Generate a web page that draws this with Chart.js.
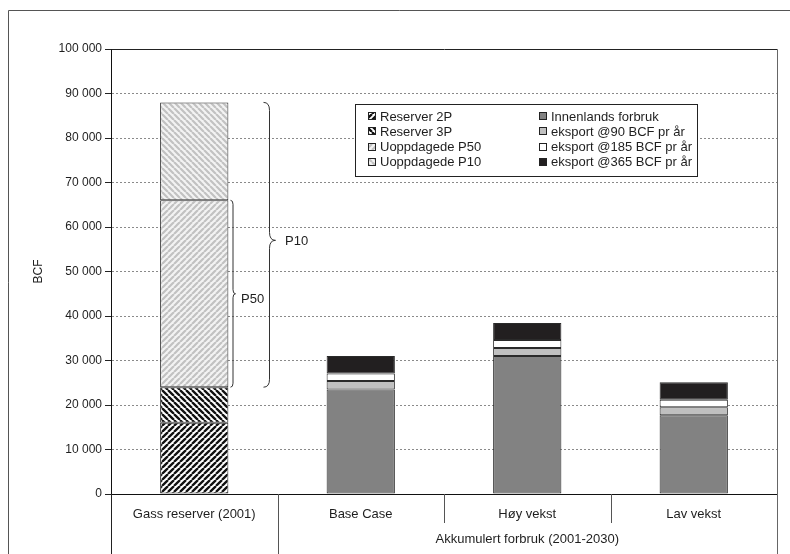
<!DOCTYPE html>
<html>
<head>
<meta charset="utf-8">
<script src="https://cdn.jsdelivr.net/npm/chart.js@4/dist/chart.umd.min.js"></script>
<style>
  html, body { margin: 0; padding: 0; background: #fff; }
  canvas { display: block; }
</style>
</head>
<body>
<canvas id="c" width="790" height="554"></canvas>
<script>
// ---- data ----
const categories = ['Gass reserver (2001)', 'Base Case', 'Høy vekst', 'Lav vekst'];
const groupLabel = 'Akkumulert forbruk (2001-2030)';
const yTicks = [0, 10000, 20000, 30000, 40000, 50000, 60000, 70000, 80000, 90000, 100000];

const reserver2P   = [16000, null, null, null];
const reserver3P   = [8000, null, null, null];
const uoppdP50     = [42000, null, null, null];
const uoppdP10     = [22000, null, null, null];
const innenlands   = [null, 23500, 31000, 17700];
const eksport90    = [null, 1900, 1800, 1800];
const eksport185   = [null, 1700, 1800, 1700];
const eksport365   = [null, 3900, 3800, 3900];

const seriesNames = ['Reserver 2P', 'Reserver 3P', 'Uoppdagede P50', 'Uoppdagede P10',
  'Innenlands forbruk', 'eksport @90 BCF pr år', 'eksport @185 BCF pr år', 'eksport @365 BCF pr år'];

// brace annotations: [from, to, tip, label]
const braceP50 = [66000, 24000, 45000, 'P50'];
const braceP10 = [88000, 24000, 57000, 'P10'];

// ---- styles ----
const FONT = "'Liberation Sans', Arial, sans-serif";
const TXT = '#1e1e1e';

function stripe(fg, bg, dir, size, lw) {
  const c = document.createElement('canvas');
  c.width = c.height = size;
  const g = c.getContext('2d');
  g.fillStyle = bg; g.fillRect(0, 0, size, size);
  g.strokeStyle = fg; g.lineWidth = lw;
  g.beginPath();
  for (let k = -1; k <= 1; k++) {
    if (dir === '/') { g.moveTo(k * size, size); g.lineTo(k * size + size, 0); }
    else { g.moveTo(k * size, 0); g.lineTo(k * size + size, size); }
  }
  g.stroke();
  return g.createPattern(c, 'repeat');
}

const tmp = document.getElementById('c').getContext('2d');
const pat2P = stripe('#111', '#fff', '/', 6, 2.3);
const pat3P = stripe('#111', '#fff', '\\', 6, 2.3);
const patP50 = stripe('#c2c2c2', '#f3f3f3', '/', 6, 2.2);
const patP10 = stripe('#c2c2c2', '#f3f3f3', '\\', 6, 2.2);

const fills = [pat2P, pat3P, patP50, patP10, '#828282', '#c0c0c0', '#ffffff', '#221f20'];
const values = [reserver2P, reserver3P, uoppdP50, uoppdP10, innenlands, eksport90, eksport185, eksport365];

const datasets = values.map((v, i) => ({
  label: seriesNames[i],
  data: v,
  backgroundColor: fills[i],
  borderColor: '#2a2a2a',
  borderWidth: 1,
  borderSkipped: false,
  barPercentage: 0.41,
  categoryPercentage: 1.0
}));

function fmt(v) { return String(v).replace(/\B(?=(\d{3})+(?!\d))/g, ' '); }

function drawBrace(ctx, x, ya, yb, ym, w, r) {
  const xm = x + w / 2;
  ctx.beginPath();
  ctx.moveTo(x, ya);
  ctx.quadraticCurveTo(xm, ya, xm, ya + r);
  ctx.lineTo(xm, ym - r);
  ctx.quadraticCurveTo(xm, ym, x + w, ym);
  ctx.quadraticCurveTo(xm, ym, xm, ym + r);
  ctx.lineTo(xm, yb - r);
  ctx.quadraticCurveTo(xm, yb, x, yb);
  ctx.stroke();
}

const overlay = {
  id: 'overlay',
  afterDraw(chart) {
    const ctx = chart.ctx;
    const a = chart.chartArea;
    const xs = chart.scales.x, ys = chart.scales.y;
    const H = chart.height, W = chart.width;
    ctx.save();
    // outer frame
    ctx.strokeStyle = '#555'; ctx.lineWidth = 1;
    ctx.beginPath();
    ctx.moveTo(8.5, H); ctx.lineTo(8.5, 10.5); ctx.lineTo(W, 10.5);
    ctx.stroke();
    // plot frame top & right
    ctx.strokeStyle = '#222';
    ctx.beginPath();
    ctx.moveTo(Math.round(a.left) + 0.5, Math.round(a.top) + 0.5);
    ctx.lineTo(Math.round(a.right) + 0.5, Math.round(a.top) + 0.5);
    ctx.stroke();
    ctx.strokeStyle = '#666';
    ctx.beginPath();
    ctx.moveTo(Math.round(a.right) + 0.5, Math.round(a.top) + 0.5);
    ctx.lineTo(Math.round(a.right) + 0.5, H);
    ctx.stroke();
    // category separators
    const n = categories.length;
    const cw = (a.right - a.left) / n;
    ctx.strokeStyle = '#333';
    for (let i = 0; i < n; i++) {
      const x = Math.round(a.left + i * cw) + 0.5;
      const full = (i <= 1);
      ctx.strokeStyle = i === 0 ? '#222' : '#555';
      ctx.beginPath();
      ctx.moveTo(x, Math.round(a.bottom));
      ctx.lineTo(x, full ? H : a.bottom + 29);
      ctx.stroke();
    }
    // group label
    ctx.fillStyle = TXT;
    ctx.font = '13px ' + FONT;
    ctx.textAlign = 'center'; ctx.textBaseline = 'middle';
    ctx.fillText(groupLabel, (a.left + cw + a.right) / 2, a.bottom + 45);

    // braces
    ctx.strokeStyle = '#333'; ctx.lineWidth = 1;
    const bx = xs.getPixelForValue(0);
    drawBrace(ctx, 230.5, ys.getPixelForValue(braceP50[0]), ys.getPixelForValue(braceP50[1]), ys.getPixelForValue(braceP50[2]), 5, 4);
    drawBrace(ctx, 263.5, ys.getPixelForValue(braceP10[0]), ys.getPixelForValue(braceP10[1]), ys.getPixelForValue(braceP10[2]), 12, 8);
    ctx.textAlign = 'left';
    ctx.font = '13px ' + FONT;
    ctx.fillText(braceP50[3], 241, ys.getPixelForValue(braceP50[2]) + 6);
    ctx.fillText(braceP10[3], 285, ys.getPixelForValue(braceP10[2]) + 1);

    // legend box
    const L = 355, T = 104, R = 697, B = 176;
    ctx.fillStyle = '#fff';
    ctx.fillRect(L, T, R - L, B - T);
    ctx.strokeStyle = '#222';
    ctx.strokeRect(L + 0.5, T + 0.5, R - L, B - T);
    const rowY = [116, 131, 146.5, 161.5];
    const colX = [368, 539];
    ctx.font = '13px ' + FONT;
    ctx.textBaseline = 'middle';
    for (let i = 0; i < seriesNames.length; i++) {
      const col = Math.floor(i / 4), row = i % 4;
      const sx = colX[col], sy = Math.round(rowY[row] - 4);
      ctx.fillStyle = fills[i];
      ctx.fillRect(sx, sy, 7, 7);
      ctx.strokeStyle = '#222';
      ctx.strokeRect(sx + 0.5, sy + 0.5, 7, 7);
      ctx.fillStyle = TXT;
      ctx.fillText(seriesNames[i], sx + 12, rowY[row] + 1);
    }
    ctx.restore();
  }
};

new Chart(document.getElementById('c'), {
  type: 'bar',
  data: { labels: categories, datasets },
  options: {
    responsive: false,
    animation: false,
    devicePixelRatio: 1,
    layout: { padding: { top: 49, right: 13, left: 0, bottom: 0 } },
    plugins: { legend: { display: false }, tooltip: { enabled: false } },
    scales: {
      x: {
        stacked: true,
        grid: { display: false, drawTicks: false },
        border: { display: true, color: '#111' },
        ticks: { padding: 13, font: { family: FONT, size: 13 }, color: TXT, maxRotation: 0, autoSkip: false },
        afterFit(s) { s.height = 60; }
      },
      y: {
        stacked: true,
        min: 0, max: 100000,
        afterBuildTicks(s) { s.ticks = yTicks.map(v => ({ value: v })); },
        ticks: { callback: v => fmt(v), font: { family: FONT, size: 12 }, color: TXT, padding: 3 },
        grid: {
          color: c => (c.tick && (c.tick.value === 0 || c.tick.value === 100000)) ? 'rgba(0,0,0,0)' : '#8a8a8a',
          tickColor: '#222', tickLength: 6, lineWidth: 1
        },
        border: { display: true, color: '#111', dash: [2, 2] },
        title: { display: true, text: 'BCF', font: { family: FONT, size: 12 }, color: TXT, padding: { top: 31, bottom: 0 } },
        afterFit(s) { s.width = 111; }
      }
    }
  },
  plugins: [overlay]
});
</script>
</body>
</html>
